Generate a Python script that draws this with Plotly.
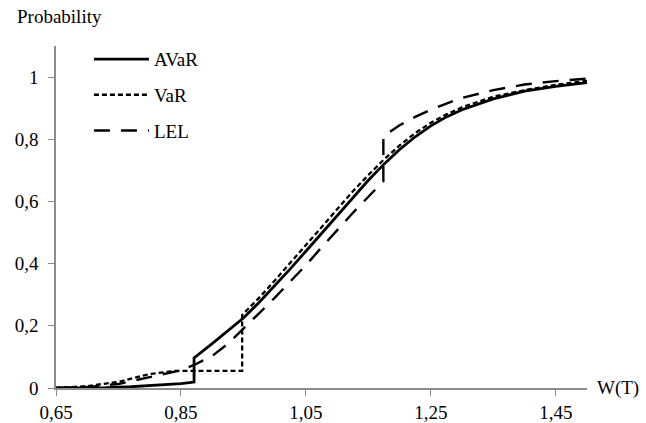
import plotly.graph_objects as go

# ---- data ----
avar_x = [0.65, 0.70, 0.73, 0.77, 0.81, 0.85, 0.871, 0.871, 0.90, 0.925, 0.95, 0.975, 1.00, 1.025, 1.05, 1.075,
          1.10, 1.125, 1.15, 1.175, 1.20, 1.225, 1.25, 1.275, 1.30, 1.35, 1.40, 1.45, 1.50]
avar_y = [0.0, 0.0, 0.001, 0.004, 0.008, 0.014, 0.019, 0.097, 0.143, 0.183, 0.225, 0.275, 0.328, 0.383, 0.44, 0.497,
          0.555, 0.612, 0.668, 0.72, 0.767, 0.808, 0.843, 0.872, 0.895, 0.93, 0.955, 0.97, 0.982]

var_x = [0.65, 0.70, 0.75, 0.80, 0.84, 0.948, 0.948, 0.975, 1.00, 1.025, 1.05, 1.075, 1.10, 1.125, 1.15, 1.175,
         1.20, 1.225, 1.25, 1.275, 1.30, 1.35, 1.40, 1.45, 1.50]
var_y = [0.0, 0.006, 0.02, 0.045, 0.055, 0.055, 0.235, 0.29, 0.345, 0.402, 0.46, 0.518, 0.575, 0.632, 0.685, 0.735,
         0.78, 0.82, 0.853, 0.88, 0.903, 0.937, 0.958, 0.975, 0.988]

lel_x = [0.65, 0.70, 0.75, 0.80, 0.85, 0.875, 0.90, 0.925, 0.95, 0.975, 1.00, 1.025, 1.05, 1.075, 1.10, 1.125,
         1.15, 1.174, 1.174, 1.20, 1.225, 1.25, 1.275, 1.30, 1.35, 1.40, 1.45, 1.50]
lel_y = [0.0, 0.003, 0.013, 0.035, 0.057, 0.078, 0.103, 0.142, 0.19, 0.24, 0.29, 0.342, 0.395, 0.452, 0.508, 0.563,
         0.615, 0.665, 0.81, 0.845, 0.872, 0.895, 0.915, 0.933, 0.958, 0.976, 0.987, 0.995]

x_tickvals = [0.65, 0.85, 1.05, 1.25, 1.45]
x_ticktext = ["0,65", "0,85", "1,05", "1,25", "1,45"]
y_tickvals = [0, 0.2, 0.4, 0.6, 0.8, 1.0]
y_ticktext = ["0", "0,2", "0,4", "0,6", "0,8", "1"]

FONT = "Liberation Serif"
AX = "#8c8c8c"
FS = 19

fig = go.Figure()
fig.add_trace(go.Scatter(x=avar_x, y=avar_y, mode="lines", name="AVaR", legendgroup="a",
                         line=dict(color="black", width=2.8)))
fig.add_trace(go.Scatter(x=var_x, y=var_y, mode="lines", name="VaR", legendgroup="b",
                         line=dict(color="black", width=2.3, dash="5px,3px")))
fig.add_trace(go.Scatter(x=lel_x, y=lel_y, mode="lines", name="LEL", legendgroup="c",
                         line=dict(color="black", width=2.4, dash="16px,11px")))

fig.update_layout(
    width=646, height=423,
    margin=dict(l=56, r=59, t=46, b=35),
    paper_bgcolor="white", plot_bgcolor="white",
    font=dict(family=FONT, size=FS, color="black"),
    showlegend=True,
    legend=dict(x=0.062, y=1.017, xanchor="left", yanchor="top",
                bgcolor="rgba(0,0,0,0)", font=dict(family=FONT, size=FS),
                tracegroupgap=8, itemwidth=55),
    xaxis=dict(range=[0.65, 1.5], showgrid=False, zeroline=False, automargin=False,
               showline=True, linecolor=AX, linewidth=1.5,
               ticks="outside", tickcolor=AX, ticklen=6, tickwidth=1.2,
               tickvals=x_tickvals, ticktext=x_ticktext, ticklabelstandoff=0,
               tickfont=dict(family=FONT, size=FS)),
    yaxis=dict(range=[0, 1.1], showgrid=False, zeroline=False, automargin=False,
               showline=True, linecolor=AX, linewidth=1.5,
               ticks="outside", tickcolor=AX, ticklen=6, tickwidth=1.2,
               tickvals=y_tickvals, ticktext=y_ticktext, ticklabelstandoff=6,
               tickfont=dict(family=FONT, size=FS)),
    annotations=[
        dict(text="Probability", xref="paper", yref="paper", x=-0.078, y=1.085,
             xanchor="left", yanchor="middle", showarrow=False,
             font=dict(family=FONT, size=FS)),
        dict(text="W(T)", xref="paper", yref="paper", x=1.016, y=0.0,
             xanchor="left", yanchor="middle", showarrow=False,
             font=dict(family=FONT, size=FS)),
    ],
)

fig.write_html("out.html", config={"displayModeBar": False},
               post_script="document.body.style.margin='0';")
